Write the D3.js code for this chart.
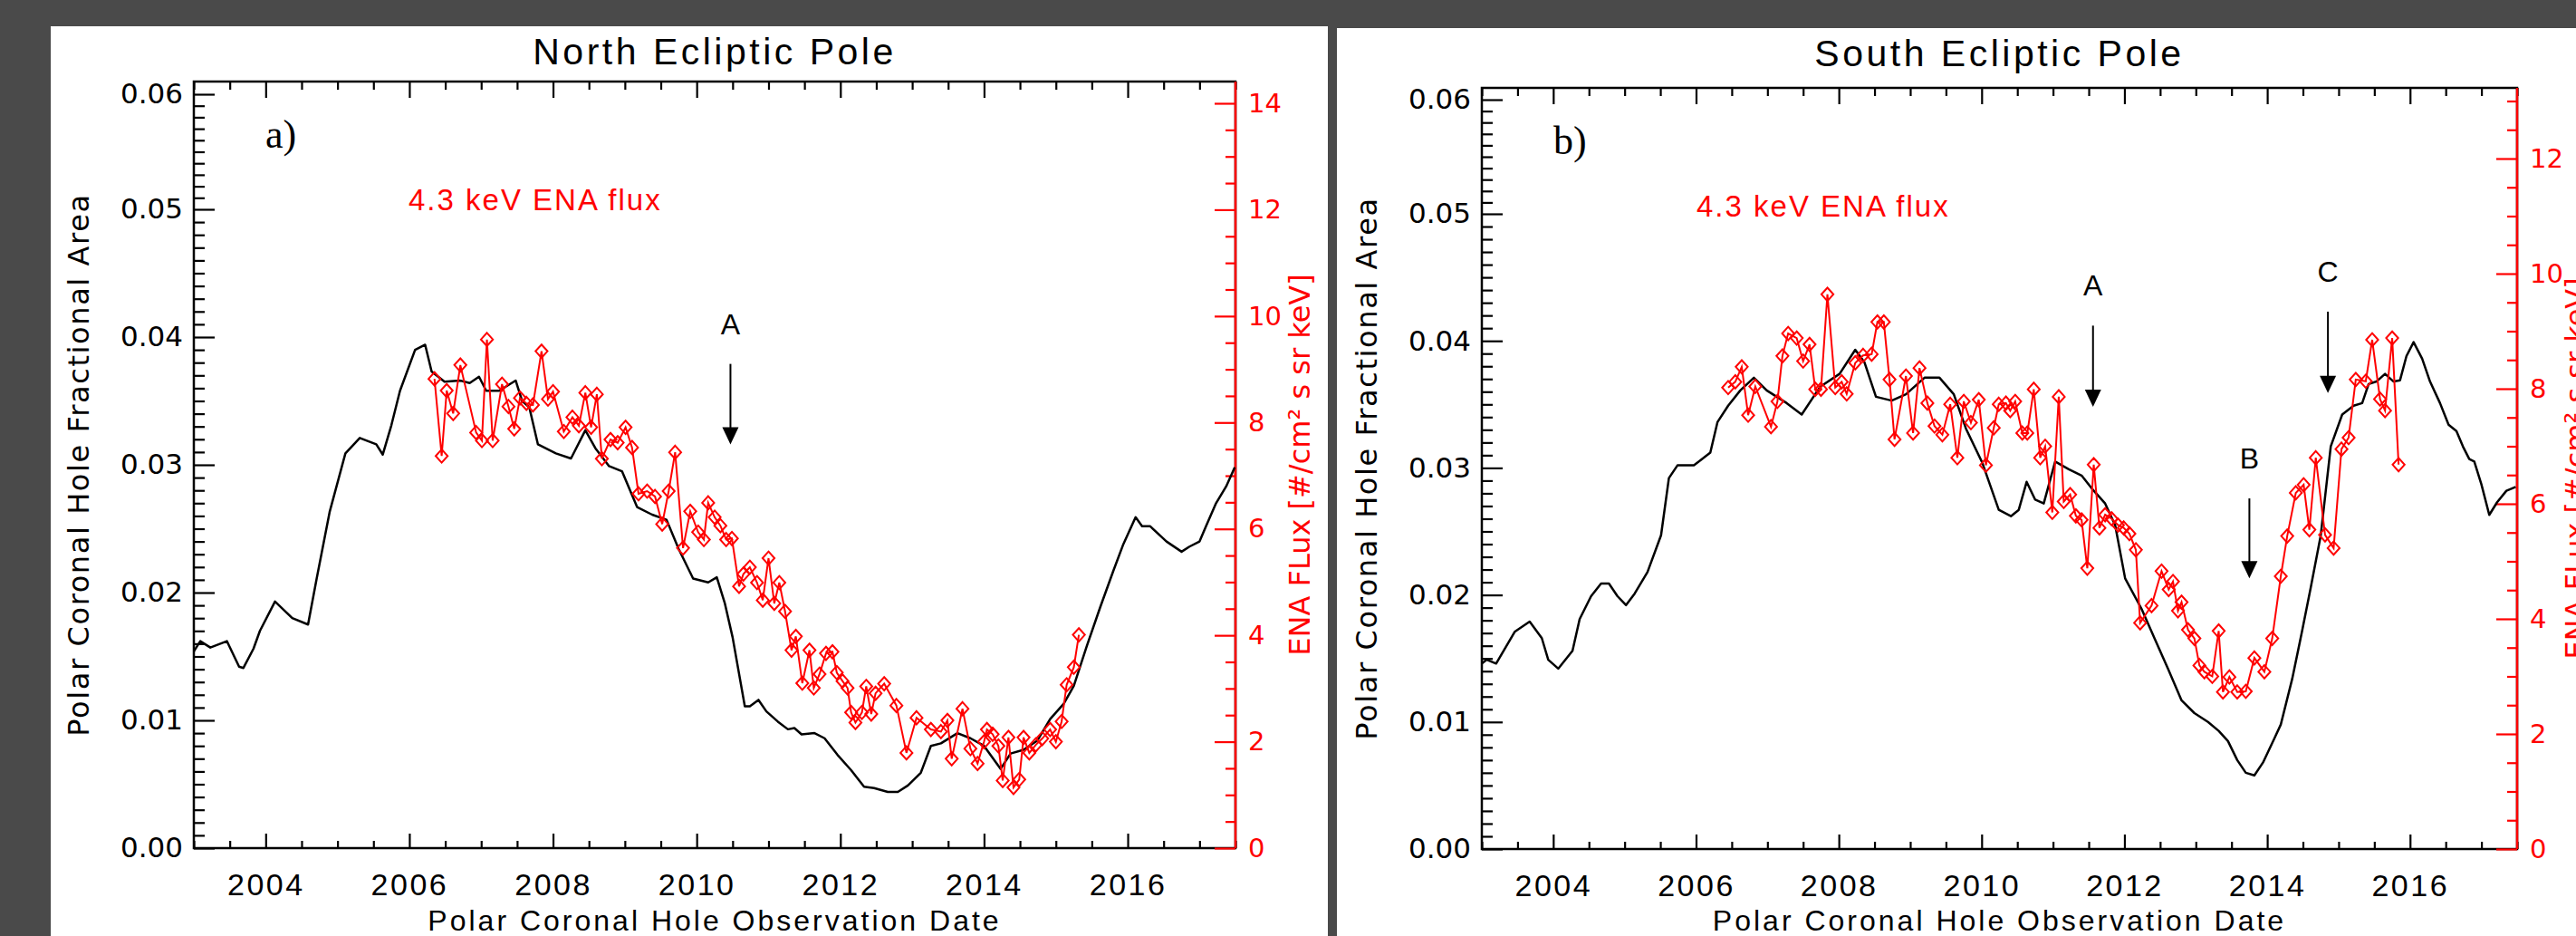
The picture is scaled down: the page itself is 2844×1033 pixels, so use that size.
<!DOCTYPE html>
<html>
<head>
<meta charset="utf-8">
<script src="https://cdn.jsdelivr.net/npm/d3@7"></script>
<style>
  body { margin: 0; background: #4a4a4a; }
  svg { display: block; }
</style>
</head>
<body>
<svg id="chart"></svg>
<script>
// ---------------- values ----------------
const yearTicks = [2004, 2006, 2008, 2010, 2012, 2014, 2016];
const areaTicks = [0, 0.01, 0.02, 0.03, 0.04, 0.05, 0.06];
const fluxTicksNorth = [0, 2, 4, 6, 8, 10, 12, 14];
const fluxTicksSouth = [0, 2, 4, 6, 8, 10, 12];

// North: polar coronal hole fractional area (black)
const northAreaYears = [2003.00, 2003.09, 2003.23, 2003.46, 2003.63, 2003.69, 2003.83, 2003.92, 2004.13, 2004.37,
  2004.59, 2004.71, 2004.89, 2005.11, 2005.31, 2005.54, 2005.63, 2005.75, 2005.87, 2006.08,
  2006.22, 2006.31, 2006.49, 2006.70, 2006.84, 2006.97, 2007.07, 2007.25, 2007.48, 2007.57,
  2007.67, 2007.79, 2008.04, 2008.25, 2008.45, 2008.59, 2008.78, 2008.96, 2009.17, 2009.38,
  2009.58, 2009.75, 2009.95, 2010.16, 2010.28, 2010.39, 2010.50, 2010.67, 2010.74, 2010.86,
  2010.97, 2011.13, 2011.27, 2011.36, 2011.46, 2011.64, 2011.78, 2011.96, 2012.15, 2012.33,
  2012.47, 2012.66, 2012.80, 2012.94, 2013.12, 2013.26, 2013.40, 2013.63, 2013.81, 2014.00,
  2014.23, 2014.37, 2014.55, 2014.74, 2014.92, 2015.11, 2015.25, 2015.43, 2015.62, 2015.80,
  2015.94, 2016.11, 2016.20, 2016.31, 2016.54, 2016.75, 2016.86, 2017.00, 2017.09, 2017.23,
  2017.37, 2017.49];
const northArea = [0.0154, 0.0162, 0.0157, 0.0162, 0.0142, 0.0141, 0.0156, 0.0170, 0.0193, 0.0180,
  0.0175, 0.0211, 0.0263, 0.0309, 0.0321, 0.0316, 0.0308, 0.0331, 0.0358, 0.0390,
  0.0394, 0.0373, 0.0365, 0.0366, 0.0364, 0.0369, 0.0358, 0.0358, 0.0366, 0.0350,
  0.0345, 0.0316, 0.0309, 0.0305, 0.0327, 0.0313, 0.0299, 0.0295, 0.0267, 0.0261,
  0.0257, 0.0234, 0.0211, 0.0208, 0.0212, 0.0192, 0.0165, 0.0111, 0.0111, 0.0116,
  0.0107, 0.0099, 0.0093, 0.0094, 0.0089, 0.0090, 0.0086, 0.0073, 0.0061, 0.0048,
  0.0047, 0.0044, 0.0044, 0.0049, 0.0059, 0.0080, 0.0082, 0.0090, 0.0086, 0.0080,
  0.0062, 0.0074, 0.0077, 0.0084, 0.0101, 0.0113, 0.0127, 0.0158, 0.0189, 0.0217,
  0.0238, 0.0259, 0.0252, 0.0252, 0.0240, 0.0232, 0.0236, 0.0240, 0.0252, 0.0270,
  0.0283, 0.0298];

// North: 4.3 keV ENA flux (red)
const northFluxYears = [2006.35, 2006.45, 2006.52, 2006.61, 2006.71, 2006.93, 2007.01, 2007.08, 2007.16, 2007.29,
  2007.38, 2007.46, 2007.54, 2007.63, 2007.72, 2007.84, 2007.93, 2008.00, 2008.15, 2008.27,
  2008.36, 2008.45, 2008.53, 2008.61, 2008.68, 2008.80, 2008.90, 2009.01, 2009.10, 2009.19,
  2009.31, 2009.42, 2009.52, 2009.61, 2009.70, 2009.81, 2009.91, 2010.02, 2010.10, 2010.16,
  2010.25, 2010.33, 2010.41, 2010.49, 2010.59, 2010.65, 2010.74, 2010.84, 2010.92, 2011.00,
  2011.08, 2011.15, 2011.23, 2011.32, 2011.38, 2011.47, 2011.57, 2011.63, 2011.71, 2011.80,
  2011.89, 2011.95, 2012.03, 2012.10, 2012.15, 2012.21, 2012.30, 2012.36, 2012.43, 2012.49,
  2012.61, 2012.78, 2012.92, 2013.06, 2013.26, 2013.40, 2013.49, 2013.55, 2013.70, 2013.81,
  2013.91, 2014.00, 2014.04, 2014.12, 2014.20, 2014.26, 2014.34, 2014.41, 2014.49, 2014.55,
  2014.63, 2014.72, 2014.81, 2014.92, 2015.00, 2015.08, 2015.15, 2015.25, 2015.32];
const northFlux = [8.82, 7.37, 8.60, 8.17, 9.08, 7.81, 7.66, 9.56, 7.66, 8.72,
  8.30, 7.88, 8.46, 8.36, 8.33, 9.34, 8.44, 8.58, 7.83, 8.10,
  7.94, 8.56, 7.91, 8.53, 7.32, 7.68, 7.62, 7.91, 7.53, 6.66,
  6.71, 6.61, 6.09, 6.71, 7.44, 5.64, 6.33, 5.94, 5.80, 6.49,
  6.22, 6.06, 5.80, 5.82, 4.92, 5.15, 5.28, 4.99, 4.66, 5.45,
  4.60, 4.99, 4.45, 3.72, 3.98, 3.10, 3.72, 3.01, 3.27, 3.66,
  3.69, 3.30, 3.14, 3.01, 2.55, 2.36, 2.55, 3.04, 2.52, 2.91,
  3.09, 2.68, 1.79, 2.45, 2.23, 2.19, 2.40, 1.68, 2.62, 1.87,
  1.59, 2.00, 2.23, 2.14, 1.92, 1.27, 2.08, 1.14, 1.29, 2.08,
  1.79, 1.94, 2.06, 2.23, 2.00, 2.38, 3.07, 3.40, 4.01];

// South: polar coronal hole fractional area (black)
const southAreaYears = [2003.00, 2003.07, 2003.20, 2003.46, 2003.67, 2003.84, 2003.93, 2004.07, 2004.27, 2004.37,
  2004.53, 2004.67, 2004.78, 2004.90, 2005.02, 2005.14, 2005.32, 2005.51, 2005.62, 2005.74,
  2005.97, 2006.20, 2006.30, 2006.45, 2006.62, 2006.81, 2006.99, 2007.27, 2007.48, 2007.74,
  2008.01, 2008.23, 2008.36, 2008.52, 2008.74, 2008.94, 2009.20, 2009.41, 2009.61, 2009.78,
  2010.01, 2010.24, 2010.41, 2010.52, 2010.63, 2010.75, 2010.87, 2011.03, 2011.22, 2011.40,
  2011.54, 2011.73, 2011.87, 2012.01, 2012.24, 2012.42, 2012.61, 2012.80, 2012.98, 2013.17,
  2013.32, 2013.45, 2013.58, 2013.70, 2013.82, 2013.94, 2014.10, 2014.19, 2014.35, 2014.49,
  2014.61, 2014.75, 2014.89, 2015.05, 2015.21, 2015.33, 2015.42, 2015.53, 2015.65, 2015.77,
  2015.86, 2015.95, 2016.05, 2016.17, 2016.28, 2016.42, 2016.54, 2016.65, 2016.74, 2016.83,
  2016.90, 2017.00, 2017.11, 2017.22, 2017.35, 2017.48];
const southArea = [0.0146, 0.0149, 0.0146, 0.0171, 0.0179, 0.0166, 0.0149, 0.0142, 0.0156, 0.0181,
  0.0199, 0.0209, 0.0209, 0.0199, 0.0192, 0.0201, 0.0218, 0.0247, 0.0292, 0.0302,
  0.0302, 0.0312, 0.0336, 0.0349, 0.0361, 0.0371, 0.0361, 0.0351, 0.0342, 0.0364,
  0.0374, 0.0393, 0.0383, 0.0356, 0.0353, 0.0358, 0.0371, 0.0371, 0.0358, 0.0331,
  0.0304, 0.0267, 0.0262, 0.0267, 0.0289, 0.0275, 0.0272, 0.0305, 0.0299, 0.0294,
  0.0284, 0.0272, 0.0255, 0.0213, 0.0189, 0.0166, 0.0142, 0.0117, 0.0107, 0.0100,
  0.0093, 0.0085, 0.0070, 0.0060, 0.0058, 0.0068, 0.0087, 0.0098, 0.0134, 0.0172,
  0.0206, 0.0247, 0.0317, 0.0342, 0.0349, 0.0351, 0.0366, 0.0368, 0.0374, 0.0368,
  0.0369, 0.0388, 0.0399, 0.0386, 0.0368, 0.0351, 0.0334, 0.0329, 0.0317, 0.0307,
  0.0305, 0.0287, 0.0263, 0.0273, 0.0282, 0.0285];

// South: 4.3 keV ENA flux (red)
const southFluxYears = [2006.45, 2006.55, 2006.64, 2006.73, 2006.83, 2007.05, 2007.14, 2007.21, 2007.29, 2007.41,
  2007.50, 2007.59, 2007.67, 2007.75, 2007.84, 2007.95, 2008.04, 2008.11, 2008.23, 2008.34,
  2008.46, 2008.54, 2008.63, 2008.71, 2008.78, 2008.94, 2009.04, 2009.13, 2009.24, 2009.34,
  2009.45, 2009.56, 2009.66, 2009.75, 2009.85, 2009.96, 2010.06, 2010.17, 2010.24, 2010.34,
  2010.40, 2010.47, 2010.57, 2010.64, 2010.73, 2010.82, 2010.89, 2010.99, 2011.08, 2011.15,
  2011.24, 2011.32, 2011.40, 2011.48, 2011.57, 2011.65, 2011.73, 2011.82, 2011.91, 2011.99,
  2012.07, 2012.16, 2012.22, 2012.38, 2012.52, 2012.62, 2012.68, 2012.75, 2012.80, 2012.89,
  2012.98, 2013.05, 2013.12, 2013.23, 2013.32, 2013.38, 2013.47, 2013.58, 2013.70, 2013.82,
  2013.96, 2014.07, 2014.19, 2014.28, 2014.40, 2014.51, 2014.59, 2014.68, 2014.81, 2014.93,
  2015.04, 2015.14, 2015.24, 2015.38, 2015.47, 2015.58, 2015.65, 2015.75, 2015.84];
const southFlux = [8.02, 8.12, 8.38, 7.54, 8.04, 7.34, 7.78, 8.57, 8.96, 8.88,
  8.48, 8.77, 7.99, 7.99, 9.64, 8.02, 8.12, 7.91, 8.45, 8.58,
  8.60, 9.16, 9.16, 8.16, 7.12, 8.22, 7.23, 8.36, 7.75, 7.35,
  7.20, 7.73, 6.80, 7.78, 7.41, 7.81, 6.67, 7.32, 7.73, 7.75,
  7.62, 7.78, 7.23, 7.23, 7.99, 6.80, 7.00, 5.85, 7.86, 6.04,
  6.16, 5.79, 5.72, 4.88, 6.68, 5.58, 5.81, 5.74, 5.63, 5.58,
  5.48, 5.20, 3.93, 4.23, 4.83, 4.51, 4.65, 4.14, 4.29, 3.81,
  3.66, 3.19, 3.08, 3.00, 3.79, 2.73, 2.99, 2.73, 2.74, 3.32,
  3.08, 3.66, 4.74, 5.44, 6.19, 6.33, 5.55, 6.80, 5.46, 5.23,
  6.95, 7.15, 8.16, 8.13, 8.85, 7.82, 7.62, 8.88, 6.68];

// event arrows (year, shaft start and tip on the area axis)
const northArrowLabels = ["A"];
const northArrowYears = [2010.47];
const northArrowFrom = [0.0379];
const northArrowTo = [0.0316];
const southArrowLabels = ["A", "B", "C"];
const southArrowYears = [2011.56, 2013.75, 2014.85];
const southArrowFrom = [0.0412, 0.0276, 0.0423];
const southArrowTo = [0.0348, 0.0213, 0.0359];

// ---------------- drawing ----------------
const width = 2844;
const height = 1033;
const tickFont = "DejaVu Sans";
const textFont = "Liberation Sans";

const svg = d3.select("#chart")
    .attr("width", width)
    .attr("height", height);

svg.append("rect")
    .attr("width", width)
    .attr("height", height)
    .attr("fill", "#4a4a4a");

// hollow diamond, close to IDL psym 4
const diamond = {
    draw(context, size) {
        const h = Math.sqrt(size) * 0.6;
        const w = h * 0.9;
        context.moveTo(0, -h);
        context.lineTo(w, 0);
        context.lineTo(0, h);
        context.lineTo(-w, 0);
        context.closePath();
    }
};

function styleAxis(a, color, fontFamily, fontSize) {
    a.select(".domain").remove();
    a.style("color", color)
        .attr("font-family", fontFamily)
        .attr("font-size", fontSize);
    a.selectAll("line").attr("stroke-width", 2.2);
    return a;
}

function drawPanel(p) {
    const g = svg.append("g").attr("class", p.id);

    g.append("rect")
        .attr("x", p.panelX)
        .attr("y", p.panelY)
        .attr("width", p.panelW)
        .attr("height", height - p.panelY)
        .attr("fill", "white");

    const x = d3.scaleLinear()
        .domain([2003, 2017.5])
        .range([p.left, p.right]);

    const yArea = d3.scaleLinear()
        .domain([0, 0.05, 0.06])
        .range([p.bottom, p.y05, p.y06]);

    const yFlux = d3.scaleLinear()
        .domain([0, p.fluxTicks[p.fluxTicks.length - 1]])
        .range([p.bottom, p.fluxTop]);

    const minorYears = d3.range(2003, 2017.51, 0.5).filter(v => !yearTicks.includes(v));
    const minorArea = d3.range(0, 61).filter(i => i % 10 !== 0).map(i => i / 1000);
    const minorFlux = d3.range(0, p.fluxMinorMax + 0.01, 0.5).filter(v => v % 2 !== 0);

    // bottom axis
    styleAxis(g.append("g")
        .attr("transform", `translate(0,${p.bottom})`)
        .call(d3.axisBottom(x).tickValues(yearTicks).tickSize(-16).tickPadding(28)
            .tickFormat(d3.format("d"))), "black", textFont, 34)
        .selectAll("text").attr("letter-spacing", 2.5);
    styleAxis(g.append("g")
        .attr("transform", `translate(0,${p.bottom})`)
        .call(d3.axisBottom(x).tickValues(minorYears).tickSize(-8).tickFormat("")), "black", textFont, 34);

    // top axis, ticks only
    styleAxis(g.append("g")
        .attr("transform", `translate(0,${p.top})`)
        .call(d3.axisTop(x).tickValues(yearTicks).tickSize(-18).tickFormat("")), "black", textFont, 34);
    styleAxis(g.append("g")
        .attr("transform", `translate(0,${p.top})`)
        .call(d3.axisTop(x).tickValues(minorYears).tickSize(-9).tickFormat("")), "black", textFont, 34);

    // left axis: fractional area
    styleAxis(g.append("g")
        .attr("transform", `translate(${p.left},0)`)
        .call(d3.axisLeft(yArea).tickValues(areaTicks).tickSize(-23).tickPadding(12)
            .tickFormat(d3.format(".2f"))), "black", tickFont, 31);
    styleAxis(g.append("g")
        .attr("transform", `translate(${p.left},0)`)
        .call(d3.axisLeft(yArea).tickValues(minorArea).tickSize(-12).tickFormat("")), "black", tickFont, 31);

    // frame
    g.append("rect")
        .attr("x", p.left)
        .attr("y", p.top)
        .attr("width", p.right - p.left)
        .attr("height", p.bottom - p.top)
        .attr("fill", "none")
        .attr("stroke", "black")
        .attr("stroke-width", 2.5);

    // right axis: ENA flux
    g.append("line")
        .attr("x1", p.right).attr("x2", p.right)
        .attr("y1", p.top).attr("y2", p.bottom)
        .attr("stroke", "red")
        .attr("stroke-width", 2.5);
    styleAxis(g.append("g")
        .attr("transform", `translate(${p.right},0)`)
        .call(d3.axisRight(yFlux).tickValues(p.fluxTicks).tickSize(-23).tickPadding(14)
            .tickFormat(d3.format("d"))), "red", tickFont, 29);
    styleAxis(g.append("g")
        .attr("transform", `translate(${p.right},0)`)
        .call(d3.axisRight(yFlux).tickValues(minorFlux).tickSize(-11).tickFormat("")), "red", tickFont, 29);

    // area curve
    const areaLine = d3.line()
        .x(d => x(d[0]))
        .y(d => yArea(d[1]));

    g.append("path")
        .datum(d3.zip(p.areaYears, p.area))
        .attr("d", areaLine)
        .attr("fill", "none")
        .attr("stroke", "black")
        .attr("stroke-width", 2.5)
        .attr("stroke-linejoin", "round");

    // flux curve with diamonds
    const fluxPoints = d3.zip(p.fluxYears, p.flux);
    const fluxLine = d3.line()
        .x(d => x(d[0]))
        .y(d => yFlux(d[1]));

    g.append("path")
        .datum(fluxPoints)
        .attr("d", fluxLine)
        .attr("fill", "none")
        .attr("stroke", "red")
        .attr("stroke-width", 2);

    g.selectAll(".marker")
        .data(fluxPoints)
        .enter().append("path")
        .attr("class", "marker")
        .attr("transform", d => `translate(${x(d[0])},${yFlux(d[1])})`)
        .attr("d", d3.symbol().type(diamond).size(150))
        .attr("fill", "none")
        .attr("stroke", "red")
        .attr("stroke-width", 2);

    // arrows
    const arrows = d3.zip(p.arrowLabels, p.arrowYears, p.arrowFrom, p.arrowTo);
    const arrowG = g.selectAll(".arrow")
        .data(arrows)
        .enter().append("g")
        .attr("class", "arrow");

    arrowG.append("line")
        .attr("x1", d => x(d[1]))
        .attr("x2", d => x(d[1]))
        .attr("y1", d => yArea(d[2]))
        .attr("y2", d => yArea(d[3]) - 10)
        .attr("stroke", "black")
        .attr("stroke-width", 2);

    arrowG.append("path")
        .attr("d", d => {
            const cx = x(d[1]);
            const ty = yArea(d[3]);
            return `M${cx - 9},${ty - 19}L${cx + 9},${ty - 19}L${cx},${ty}Z`;
        })
        .attr("fill", "black");

    arrowG.append("text")
        .attr("x", d => x(d[1]))
        .attr("y", d => yArea(d[2]) - 33)
        .attr("text-anchor", "middle")
        .attr("font-family", textFont)
        .attr("font-size", 32)
        .text(d => d[0]);

    // texts
    const midX = (p.left + p.right) / 2;
    const midY = (p.top + p.bottom) / 2;

    g.append("text")
        .attr("x", midX)
        .attr("y", p.titleY)
        .attr("text-anchor", "middle")
        .attr("font-family", textFont)
        .attr("font-size", 41)
        .attr("letter-spacing", 3.5)
        .text(p.title);

    g.append("text")
        .attr("x", midX)
        .attr("y", 1027)
        .attr("text-anchor", "middle")
        .attr("font-family", textFont)
        .attr("font-size", 32)
        .attr("letter-spacing", 3)
        .text("Polar Coronal Hole Observation Date");

    g.append("text")
        .attr("transform", `translate(${p.left - 116},${midY}) rotate(-90)`)
        .attr("text-anchor", "middle")
        .attr("font-family", tickFont)
        .attr("font-size", 32)
        .attr("letter-spacing", 1.6)
        .text("Polar Coronal Hole Fractional Area");

    g.append("text")
        .attr("transform", `translate(${p.right + p.fluxLabelDx},${midY}) rotate(-90)`)
        .attr("text-anchor", "middle")
        .attr("font-family", tickFont)
        .attr("font-size", 32)
        .attr("fill", "red")
        .text("ENA FLux [#/cm² s sr keV]");

    g.append("text")
        .attr("x", p.left + 79)
        .attr("y", p.top + 73)
        .attr("font-family", "Liberation Serif")
        .attr("font-size", 44)
        .text(p.tag);

    g.append("text")
        .attr("x", p.left + 237)
        .attr("y", p.top + 142)
        .attr("font-family", textFont)
        .attr("font-size", 33)
        .attr("letter-spacing", 2)
        .attr("fill", "red")
        .text("4.3 keV ENA flux");
}

drawPanel({
    id: "north",
    title: "North Ecliptic Pole",
    tag: "a)",
    panelX: 56, panelY: 29, panelW: 1410,
    left: 214, right: 1364, top: 90, bottom: 936,
    y05: 231, y06: 104,
    fluxTicks: fluxTicksNorth, fluxTop: 114, fluxMinorMax: 14,
    fluxLabelDx: 82,
    titleY: 71,
    areaYears: northAreaYears, area: northArea,
    fluxYears: northFluxYears, flux: northFlux,
    arrowLabels: northArrowLabels, arrowYears: northArrowYears,
    arrowFrom: northArrowFrom, arrowTo: northArrowTo
});

drawPanel({
    id: "south",
    title: "South Ecliptic Pole",
    tag: "b)",
    panelX: 1476, panelY: 31, panelW: 1368,
    left: 1636, right: 2779, top: 97, bottom: 937,
    y05: 236, y06: 110,
    fluxTicks: fluxTicksSouth, fluxTop: 175, fluxMinorMax: 13,
    fluxLabelDx: 76,
    titleY: 73,
    areaYears: southAreaYears, area: southArea,
    fluxYears: southFluxYears, flux: southFlux,
    arrowLabels: southArrowLabels, arrowYears: southArrowYears,
    arrowFrom: southArrowFrom, arrowTo: southArrowTo
});
</script>
</body>
</html>
